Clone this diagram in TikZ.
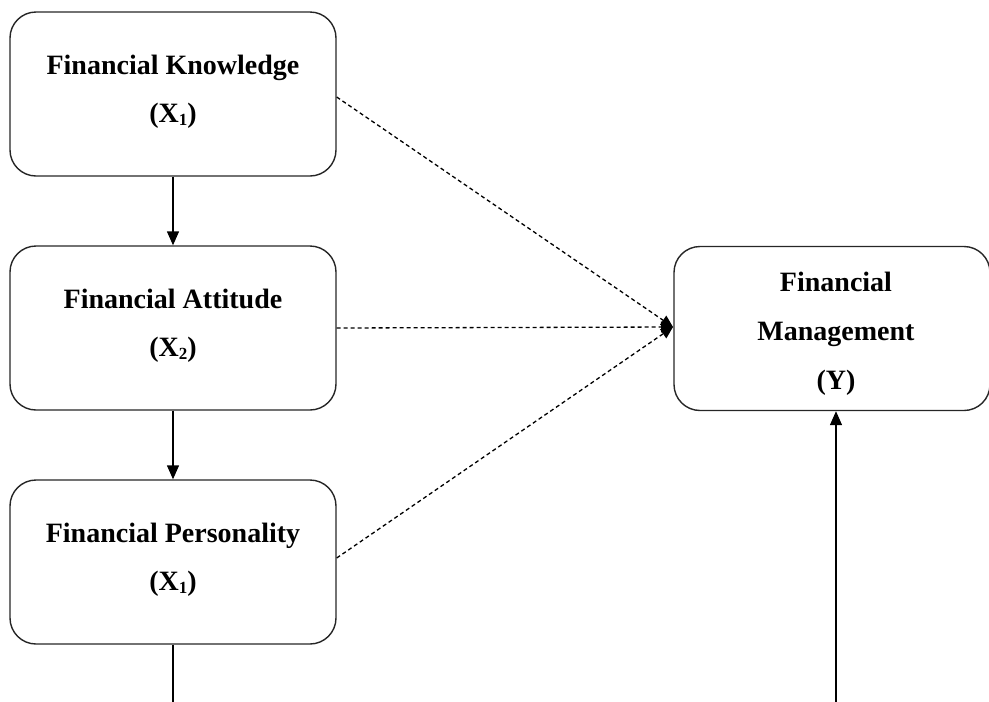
\documentclass[tikz,border=0pt]{standalone}
\usepackage{fontspec}
\setmainfont{Liberation Serif}
\usetikzlibrary{arrows.meta}
\newcommand{\subn}[1]{{\fontsize{17}{17}\selectfont\raisebox{-3pt}{#1}}}
\begin{document}
\begin{tikzpicture}[x=1pt,y=-1pt,
  box/.style={draw=black!85,line width=1.4pt,rounded corners=26pt,minimum width=326pt,minimum height=164pt,inner sep=0pt},
  lbl/.style={font=\fontsize{28}{28}\selectfont\bfseries,inner sep=0pt,anchor=base},
  solidarrow/.style={line width=1.4pt,-{Triangle[length=14pt,width=12pt]}},
  dasharrow/.style={line width=1.3pt,dash pattern=on 4pt off 3pt,-{Triangle[length=12pt,width=11pt]}}]
\useasboundingbox (0,0) rectangle (989,702);
\node[box] (k) at (173,94) {};
\node[box] (a) at (173,328) {};
\node[box] (p) at (173,562) {};
\node[box,minimum width=316pt] (m) at (832,328.5) {};
\node[lbl] (kt) at (173,74) {Financial Knowledge};
\node[lbl] (kx) at (173,122) {(X\subn{1})};
\node[lbl] (at) at (173,308) {Financial Attitude};
\node[lbl] (ax) at (173,356) {(X\subn{2})};
\node[lbl] (pt) at (173,542) {Financial Personality};
\node[lbl] (px) at (173,590) {(X\subn{1})};
\node[lbl] (mt) at (836,291) {Financial};
\node[lbl] (mm) at (836,340) {Management};
\node[lbl] (my) at (836,389) {(Y)};
\coordinate (pbot) at (173,702);
\coordinate (mbot) at (836,702);
\coordinate (conv) at (673,327);
\draw[solidarrow] (k.south) -- (a.north);
\draw[solidarrow] (a.south) -- (p.north);
\draw[line width=1.4pt] (p.south) -- (pbot);
\draw[solidarrow] (mbot) -- (m.south -| mbot);
\draw[dasharrow] (k.east |- 0,97) -- (conv);
\draw[dasharrow] (a.east) -- (conv);
\draw[dasharrow] (p.east |- 0,558) -- (conv);
\end{tikzpicture}
\end{document}
